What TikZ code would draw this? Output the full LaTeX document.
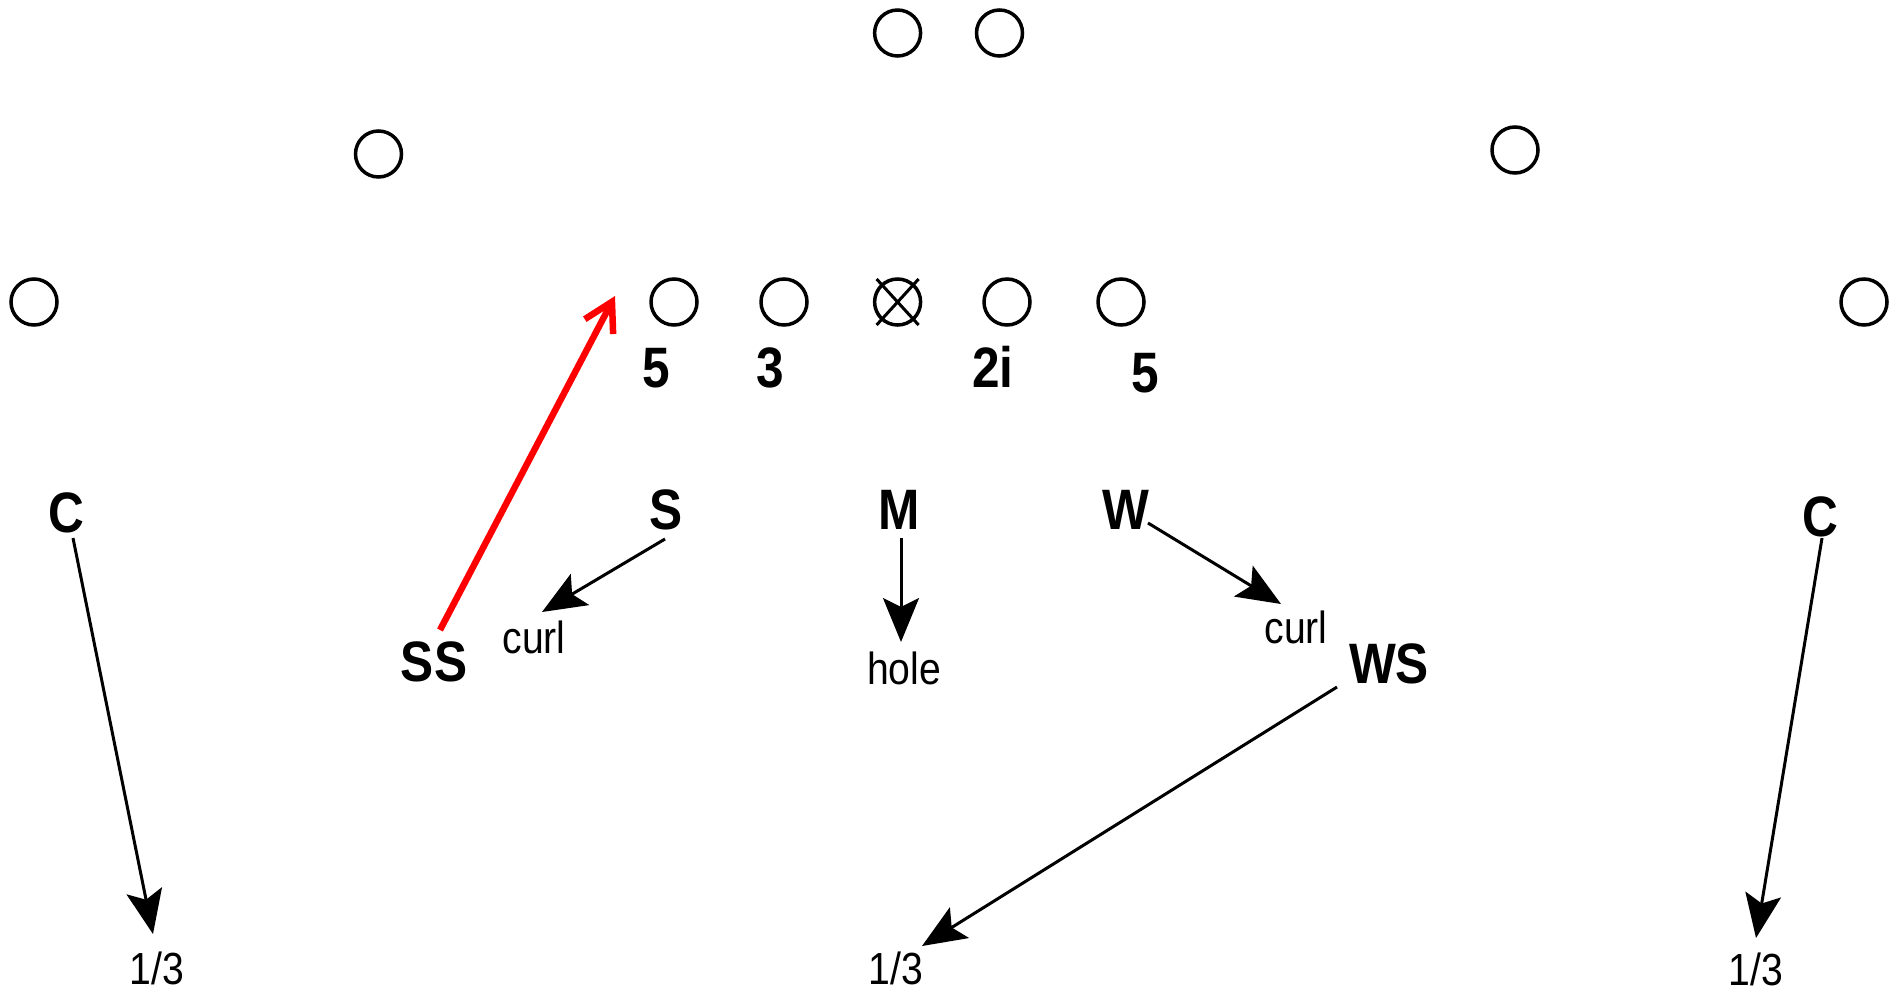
\documentclass[tikz,border=0pt]{standalone}
\usepackage{fontspec}
\setmainfont{Liberation Sans}
\newfontfamily\lblfont[FakeStretch=0.87]{Liberation Sans}
\usetikzlibrary{arrows.meta,calc}
\begin{document}
\begin{tikzpicture}[x=1pt,y=-1pt,
  player/.style={circle,draw,line width=3.5pt,minimum size=46pt,inner sep=0pt},
  deflbl/.style={font=\lblfont\bfseries\fontsize{57}{60}\selectfont,inner sep=0pt,anchor=base},
  zonelbl/.style={font=\lblfont\fontsize{45}{48}\selectfont,inner sep=0pt,anchor=base},
  thirdlbl/.style={font=\lblfont\fontsize{45}{48}\selectfont,inner sep=0pt,anchor=base},
  move/.style={line width=3pt,-{Stealth[length=44pt,width=36pt,inset=9pt]}},
  blitz/.style={red,line width=6.5pt,-{Straight Barb[length=28pt,width=32pt]}}]
\useasboundingbox (0,0) rectangle (1902,991);

% offense
\node[player] (qb1) at (897.6,33) {};
\node[player] (qb2) at (999.5,33) {};
\node[player] (wl) at (378.5,154) {};
\node[player] (wr) at (1515,150) {};
\node[player] (xl) at (34,302) {};
\node[player] (lt) at (674,302) {};
\node[player] (lg) at (784,302) {};
\node[player] (ctr) at (897.6,302) {};
\node[player] (rg) at (1007,302) {};
\node[player] (rt) at (1121,302) {};
\node[player] (xr) at (1864,302) {};
\draw[line width=3pt] ($(ctr)+(-21,-23)$) -- ($(ctr)+(21,23)$);
\draw[line width=3pt] ($(ctr)+(21,-23)$) -- ($(ctr)+(-21,23)$);

% techniques
\node[deflbl] (t5l) at (656,387) {5};
\node[deflbl] (t3) at (770,387) {3};
\node[deflbl] (t2i) at (993,387) {2i};
\node[deflbl] (t5r) at (1145,392) {5};

% defenders
\node[deflbl] (cl) at (66,532) {C};
\node[deflbl] (cr) at (1820,536) {C};
\node[deflbl] (sam) at (666,529) {S};
\node[deflbl] (mike) at (899,529) {M};
\node[deflbl] (will) at (1126,529) {W};
\node[deflbl] (ss) at (434,681) {SS};
\node[deflbl] (ws) at (1389,683) {WS};

% zones
\node[zonelbl] (curll) at (534,653) {curl};
\node[zonelbl] (hole) at (904,684) {hole};
\node[zonelbl] (curlr) at (1296,643) {curl};
\node[thirdlbl] (thl) at (157,984) {1/3};
\node[thirdlbl] (thm) at (896,984) {1/3};
\node[thirdlbl] (thr) at (1756,985) {1/3};

% arrow ends
\coordinate (cl-s) at (73,538);   \coordinate (cl-e) at (153,934);
\coordinate (cr-s) at (1822,538); \coordinate (cr-e) at (1756,938);
\coordinate (sam-s) at (665,539); \coordinate (sam-e) at (542,612);
\coordinate (mike-s) at (901,538); \coordinate (mike-e) at (901,642);
\coordinate (will-s) at (1148,523); \coordinate (will-e) at (1281,604);
\coordinate (ws-s) at (1337,687); \coordinate (ws-e) at (922,946);
\coordinate (ss-s) at (440,630); \coordinate (ss-e) at (615,296);

\draw[move] (cl-s) -- (cl-e);
\draw[move] (cr-s) -- (cr-e);
\draw[move] (sam-s) -- (sam-e);
\draw[move] (mike-s) -- (mike-e);
\draw[move] (will-s) -- (will-e);
\draw[move] (ws-s) -- (ws-e);
\draw[blitz] (ss-s) -- (ss-e);
\end{tikzpicture}
\end{document}
